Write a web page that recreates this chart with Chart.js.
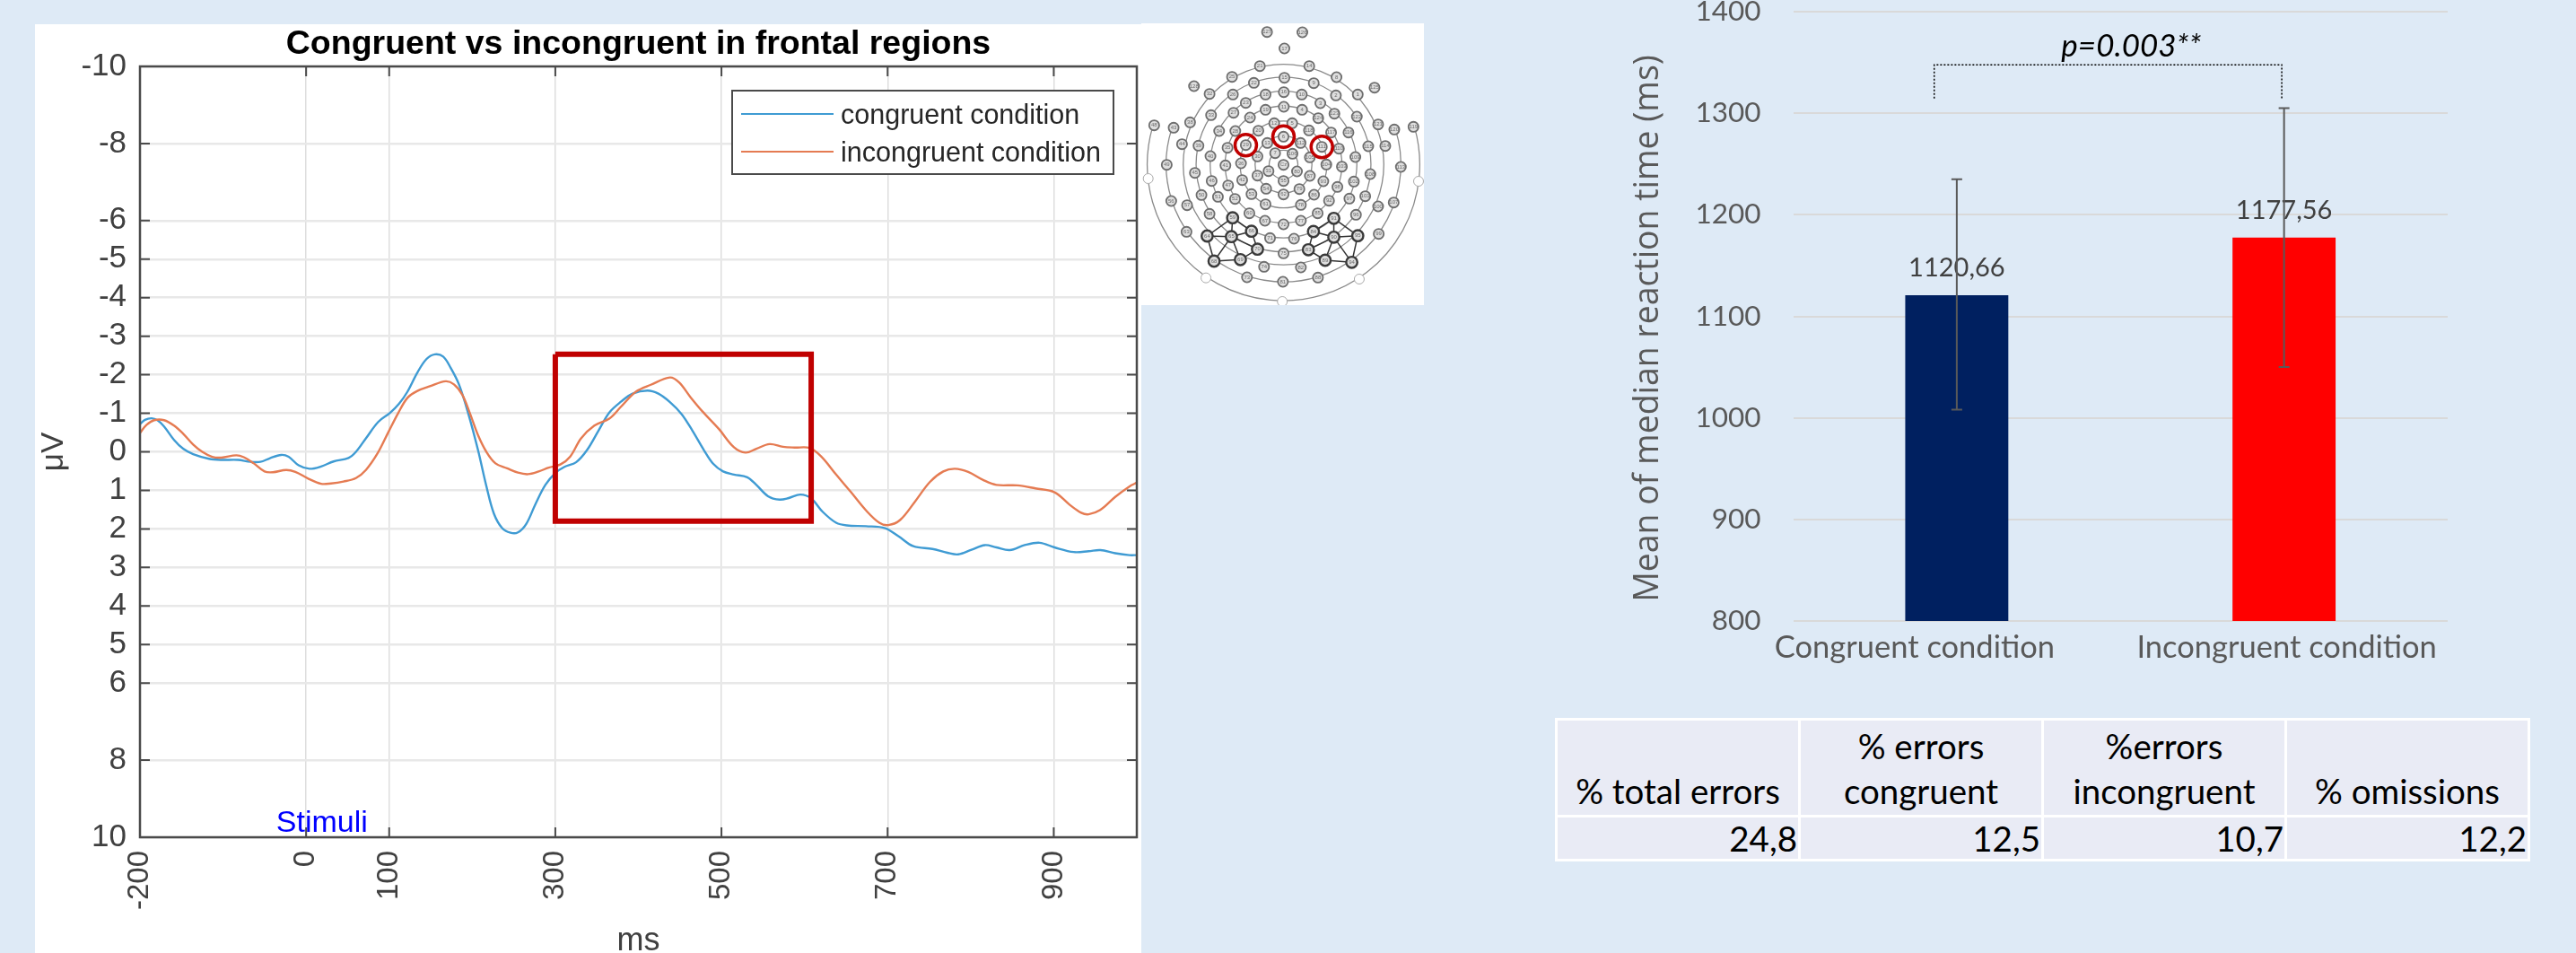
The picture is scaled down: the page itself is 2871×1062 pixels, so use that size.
<!DOCTYPE html>
<html>
<head>
<meta charset="utf-8">
<title>Congruent vs incongruent</title>
<script src="https://cdn.jsdelivr.net/npm/chart.js@4/dist/chart.umd.min.js"></script>
<style>
  html, body { margin: 0; padding: 0; width: 2871px; height: 1062px; overflow: hidden; background: #DEEAF6; }
  canvas { position: absolute; display: block; }
  #erpChart { left: 39px; top: 27px; background: #fff; }
  #headChart { left: 1272px; top: 26px; background: #fff; }
  #rtChart { left: 1780px; top: 0; }
  #errorTable { position: absolute; left: 1733px; top: 800px; width: 1087px; height: 160px; border-collapse: collapse;
    table-layout: fixed; font: 38.5px Lato, sans-serif; color: #000; }
  #errorTable td { background: #E9EBF5; border: 3px solid #fff; padding: 0 1px 0 1px; }
  #errorTable tr:first-child td { height: 103px; text-align: center; vertical-align: bottom; line-height: 50px; padding-bottom: 2px; }
  #errorTable tr:last-child td { text-align: right; vertical-align: middle; }
</style>
</head>
<body>
<canvas id="erpChart"></canvas>
<canvas id="headChart"></canvas>
<canvas id="rtChart"></canvas>
<table id="errorTable"></table>

<script>
// ERP curves (ms / microvolts)
var congruentMs = [-200,-194,-186,-179,-171,-159,-148,-136,-117,-102,-82,-67,-55,-44,-30,-21,-9,4,18,33,51,60,72,87,101,112,122,134,145,155,165,174,184,195,207,217,226,236,246,255,265,276,288,300,311,325,338,352,365,379,393,411,424,438,452,465,479,490,502,515,531,542,556,570,581,595,608,622,638,651,674,697,713,731,754,772,785,801,817,831,847,865,883,901,924,942,956,974,991,1000];
var congruentUv = [-0.72,-0.83,-0.87,-0.82,-0.66,-0.31,-0.08,0.06,0.18,0.21,0.21,0.26,0.26,0.17,0.08,0.13,0.35,0.44,0.38,0.25,0.16,0,-0.35,-0.78,-1.01,-1.25,-1.56,-2.06,-2.41,-2.53,-2.47,-2.18,-1.75,-1.01,-0.04,0.89,1.6,1.98,2.1,2.09,1.87,1.36,0.86,0.55,0.39,0.27,-0.04,-0.55,-1.02,-1.3,-1.51,-1.59,-1.51,-1.29,-0.98,-0.55,-0.04,0.31,0.51,0.59,0.66,0.86,1.15,1.24,1.2,1.11,1.21,1.56,1.84,1.91,1.93,1.98,2.19,2.45,2.52,2.62,2.66,2.54,2.42,2.48,2.55,2.42,2.36,2.48,2.6,2.58,2.55,2.63,2.68,2.68];
var incongruentMs = [-200,-192,-183,-171,-159,-148,-136,-125,-113,-102,-84,-75,-63,-50,-40,-24,-13,3,18,30,45,60,72,86,99,111,122,134,149,168,178,188,197,207,217,228,242,255,267,280,292,306,318,331,347,365,379,397,415,438,449,463,477,497,515,529,542,558,574,588,606,620,638,656,674,690,701,715,733,751,767,781,797,815,831,856,878,901,919,933,942,956,974,991,1000];
var incongruentUv = [-0.49,-0.7,-0.82,-0.82,-0.68,-0.47,-0.19,0,0.13,0.15,0.09,0.14,0.3,0.51,0.53,0.47,0.52,0.7,0.83,0.82,0.77,0.68,0.47,0.04,-0.51,-1.01,-1.4,-1.58,-1.7,-1.83,-1.75,-1.48,-1.01,-0.43,0,0.3,0.43,0.54,0.58,0.51,0.41,0.33,0.12,-0.35,-0.68,-0.86,-1.17,-1.56,-1.74,-1.93,-1.8,-1.41,-1.05,-0.59,-0.12,0.02,-0.08,-0.2,-0.13,-0.11,-0.1,0.12,0.59,1.05,1.52,1.84,1.9,1.77,1.29,0.78,0.51,0.44,0.52,0.73,0.86,0.87,0.95,1.05,1.37,1.58,1.62,1.51,1.17,0.9,0.8];
var erpXTicks = [-200, 0, 100, 300, 500, 700, 900];
var erpYTicks = [-10, -8, -6, -5, -4, -3, -2, -1, 0, 1, 2, 3, 4, 5, 6, 8, 10];
var windowMs = [300, 608, 608, 300, 300];
var windowUv = [-2.53, -2.53, 1.8, 1.8, -2.53];

// reaction times
var rtCategories = ['Congruent condition', 'Incongruent condition'];
var rtMeans = [1120.66, 1177.56];
var rtLabels = ['1120,66', '1177,56'];
var rtErrLow = [1008, 1050];
var rtErrHigh = [1235, 1305];
var rtColors = ['#002060', '#FF0000'];

// error table
var tableHeaders = ['% total errors', '% errors<br>congruent', '%errors<br>incongruent', '% omissions'];
var tableValues = ['24,8', '12,5', '10,7', '12,2'];

// electrode map, positions
var electrodeIds = [127,126,17,21,14,25,8,22,15,9,128,125,32,26,18,16,10,2,1,23,19,11,4,3,124,33,27,24,123,122,38,48,43,121,120,119,34,28,20,12,5,118,117,116,29,6,111,35,13,112,110,44,39,115,114,7,106,30,105,40,109,49,113,41,36,'Cz',104,103,31,80,37,87,45,108,42,55,93,46,102,47,54,79,98,50,53,86,101,51,52,62,92,97,56,57,107,100,61,78,67,72,77,58,60,85,96,59,91,66,84,64,65,90,95,63,99,71,76,70,83,75,68,69,89,94,74,82,73,88,81];
var electrodeX = [457,575,515,433,598,340,689,413,515,613,213,816,265,343,452,513,573,687,760,386,452,513,574,635,628,270,345,400,682,757,200,80,145,828,882,946,297,351,428,481,541,597,671,729,386,512,640,325,458,569,697,173,228,795,852,484,542,425,600,268,752,122,904,318,370,512,655,707,462,557,425,600,216,802,374,512,645,272,747,327,454,565,692,238,405,614,785,293,350,512,664,732,137,190,880,828,452,570,450,512,570,265,398,626,754,342,680,405,612,257,338,680,760,188,830,467,547,425,595,512,280,368,651,740,447,570,390,627,510];
var electrodeY = [47,48,102,161,161,197,198,217,200,218,228,233,254,256,256,248,256,259,256,284,307,297,307,285,335,325,317,333,320,330,349,359,367,356,373,364,378,378,377,352,352,376,383,383,425,397,431,434,418,418,437,422,427,429,428,452,454,463,466,462,465,491,498,493,486,491,490,497,512,513,527,528,518,522,542,545,546,545,547,560,571,572,565,592,589,591,596,598,605,590,611,604,612,626,617,630,623,625,678,690,678,655,653,653,658,668,670,713,714,729,731,733,728,715,722,736,738,773,775,787,813,808,810,817,832,834,867,868,882];
var darkElectrodes = [59,91,66,84,64,65,90,95,70,83,68,69,89,94];
var redElectrodes = [29,6,111];
var darkLinks = [[59,64],[59,65],[59,66],[64,65],[65,66],[64,68],[65,68],[65,69],[66,70],[65,70],[68,69],[69,70],[91,84],[91,90],[91,95],[84,90],[90,95],[84,83],[90,83],[90,89],[90,94],[95,94],[89,94],[83,89]];
var refX = [60, 963, 253, 765, 508];
var refY = [537, 546, 869, 873, 948];
var ringRadii = [392, 335, 292, 245, 195, 145, 95, 48];
var outerRingRadius = 455;
var ringCentre = [512, 490];

function xyPoints(xs, ys) {
  return xs.map(function (x, i) { return { x: x, y: ys[i] }; });
}

function setTicks(values) {
  return function (scale) {
    scale.ticks = values.map(function (v) { return { value: v }; });
  };
}

// ---- ERP plot ----
var erpExtras = {
  id: 'erpExtras',
  afterDatasetsDraw: function (chart) {
    var ctx = chart.ctx, area = chart.chartArea;
    var x = chart.scales.x, y = chart.scales.y;
    ctx.save();
    ctx.strokeStyle = '#4A4A4A';
    ctx.lineWidth = 2.5;
    ctx.strokeRect(area.left, area.top, area.right - area.left, area.bottom - area.top);

    // matlab style ticks, inside on both sides
    ctx.lineWidth = 2;
    ctx.beginPath();
    erpYTicks.forEach(function (v) {
      var py = y.getPixelForValue(v);
      ctx.moveTo(area.left, py); ctx.lineTo(area.left + 11, py);
      ctx.moveTo(area.right, py); ctx.lineTo(area.right - 11, py);
    });
    erpXTicks.forEach(function (v) {
      var px = x.getPixelForValue(v);
      ctx.moveTo(px, area.top); ctx.lineTo(px, area.top + 11);
      ctx.moveTo(px, area.bottom); ctx.lineTo(px, area.bottom - 11);
    });
    ctx.stroke();

    ctx.fillStyle = '#0000FF';
    ctx.font = '34px "Liberation Sans"';
    ctx.textBaseline = 'alphabetic';
    ctx.fillText('Stimuli', x.getPixelForValue(-36), y.getPixelForValue(9.85));

    // legend box
    var box = { left: 777, top: 74, width: 425, height: 93 };
    ctx.fillStyle = '#fff';
    ctx.fillRect(box.left, box.top, box.width, box.height);
    ctx.strokeStyle = '#4A4A4A';
    ctx.lineWidth = 2;
    ctx.strokeRect(box.left, box.top, box.width, box.height);
    ctx.font = '30.5px "Liberation Sans"';
    ctx.textBaseline = 'middle';
    chart.data.datasets.slice(1).forEach(function (ds, i) {
      var rowY = box.top + 26 + i * 42;
      ctx.strokeStyle = ds.borderColor;
      ctx.lineWidth = 2.2;
      ctx.beginPath();
      ctx.moveTo(box.left + 10, rowY);
      ctx.lineTo(box.left + 113, rowY);
      ctx.stroke();
      ctx.fillStyle = '#262626';
      ctx.fillText(ds.label, box.left + 121, rowY + 3);
    });
    ctx.restore();
  }
};

var erpCanvas = document.getElementById('erpChart');
erpCanvas.width = 1233; erpCanvas.height = 1035;
new Chart(erpCanvas.getContext('2d'), {
  type: 'scatter',
  data: {
    datasets: [
      { label: 'window', data: xyPoints(windowMs, windowUv), showLine: true, pointRadius: 0, borderColor: '#C00000', borderWidth: 6, tension: 0, order: 0 },
      { label: 'congruent condition', data: xyPoints(congruentMs, congruentUv), showLine: true, pointRadius: 0, borderColor: '#3F9BD3', borderWidth: 2.4, tension: 0.35, order: 2 },
      { label: 'incongruent condition', data: xyPoints(incongruentMs, incongruentUv), showLine: true, pointRadius: 0, borderColor: '#E57B52', borderWidth: 2.4, tension: 0.35, order: 1 }
    ]
  },
  options: {
    responsive: false,
    animation: false,
    layout: { padding: { right: 5 } },
    plugins: {
      legend: { display: false },
      tooltip: { enabled: false },
      title: {
        display: true,
        fullSize: false,
        text: 'Congruent vs incongruent in frontal regions',
        color: '#000',
        font: { family: '"Liberation Sans"', size: 37.5, weight: 'bold' },
        padding: { top: 0, bottom: 2 }
      }
    },
    scales: {
      x: {
        type: 'linear',
        min: -200,
        max: 1000,
        afterBuildTicks: setTicks(erpXTicks),
        afterFit: function (s) { s.height = 129; },
        grid: { color: '#DEDEDE', lineWidth: 1.5, drawTicks: false },
        border: { display: false },
        ticks: { color: '#404040', font: { family: '"Liberation Sans"', size: 33 }, minRotation: 90, maxRotation: 90, padding: 15, autoSkip: false },
        title: { display: true, text: 'ms', color: '#404040', font: { family: '"Liberation Sans"', size: 36 }, padding: { top: 0, bottom: -9 } }
      },
      y: {
        type: 'linear',
        min: -10,
        max: 10,
        reverse: true,
        afterBuildTicks: setTicks(erpYTicks),
        afterFit: function (s) { s.width = 117; },
        grid: { color: '#E8E8E8', lineWidth: 2.5, drawTicks: false },
        border: { display: false },
        ticks: { color: '#404040', font: { family: '"Liberation Sans"', size: 35 }, padding: 15, autoSkip: false },
        title: { display: true, text: 'μV', color: '#404040', font: { family: '"Liberation Sans"', size: 35 }, padding: 0 }
      }
    }
  },
  plugins: [erpExtras]
});

// ---- electrode montage ----
function electrodePoint(id) {
  var i = electrodeIds.indexOf(id);
  return { x: electrodeX[i], y: electrodeY[i] };
}

var headExtras = {
  id: 'headExtras',
  beforeDatasetsDraw: function (chart) {
    var ctx = chart.ctx, sx = chart.scales.x, sy = chart.scales.y;
    var cx = sx.getPixelForValue(ringCentre[0]), cy = sy.getPixelForValue(ringCentre[1]);
    var k = sx.width / (sx.max - sx.min);
    ctx.save();
    ctx.strokeStyle = '#8A8A8A';
    ctx.lineWidth = 1.3;
    ringRadii.forEach(function (r, i) {
      ctx.beginPath();
      if (i === 0) ctx.arc(cx, cy, r * k, -0.3, Math.PI + 0.3);
      else ctx.arc(cx, cy, r * k, 0, Math.PI * 2);
      ctx.stroke();
    });
    ctx.beginPath();
    ctx.arc(cx, cy, outerRingRadius * k, -0.28, Math.PI + 0.28);
    ctx.stroke();
    ctx.strokeStyle = '#333';
    ctx.lineWidth = 1.5;
    darkLinks.forEach(function (l) {
      var a = electrodePoint(l[0]), b = electrodePoint(l[1]);
      ctx.beginPath();
      ctx.moveTo(sx.getPixelForValue(a.x), sy.getPixelForValue(a.y));
      ctx.lineTo(sx.getPixelForValue(b.x), sy.getPixelForValue(b.y));
      ctx.stroke();
    });
    ctx.restore();
  },
  afterDatasetsDraw: function (chart) {
    var ctx = chart.ctx, sx = chart.scales.x, sy = chart.scales.y;
    ctx.save();
    ctx.fillStyle = '#6A6A6A';
    ctx.font = '6px "Liberation Sans"';
    ctx.textAlign = 'center';
    ctx.textBaseline = 'middle';
    electrodeIds.forEach(function (id, i) {
      ctx.fillText(id, sx.getPixelForValue(electrodeX[i]), sy.getPixelForValue(electrodeY[i]));
    });
    ctx.restore();
  }
};

var headCanvas = document.getElementById('headChart');
headCanvas.width = 315; headCanvas.height = 314;
new Chart(headCanvas.getContext('2d'), {
  type: 'scatter',
  data: {
    datasets: [
      {
        label: 'selected',
        data: redElectrodes.map(electrodePoint),
        pointRadius: 12,
        pointBorderWidth: 3.5,
        pointBorderColor: '#C00000',
        pointBackgroundColor: 'rgba(0,0,0,0)',
        order: 0
      },
      {
        label: 'electrodes',
        data: xyPoints(electrodeX, electrodeY),
        pointRadius: electrodeIds.map(function (id) { return darkElectrodes.indexOf(id) >= 0 ? 6.2 : 5.6; }),
        pointBorderWidth: electrodeIds.map(function (id) { return darkElectrodes.indexOf(id) >= 0 ? 2.4 : 1.8; }),
        pointBorderColor: electrodeIds.map(function (id) { return darkElectrodes.indexOf(id) >= 0 ? '#3A3A3A' : '#6E6E6E'; }),
        pointBackgroundColor: '#DEDEDE',
        order: 1
      },
      {
        label: 'reference',
        data: xyPoints(refX, refY),
        pointRadius: 5.5,
        pointBorderWidth: 1,
        pointBorderColor: '#AAA',
        pointBackgroundColor: '#FFF',
        order: 2
      }
    ]
  },
  options: {
    responsive: false,
    animation: false,
    layout: { padding: 0, autoPadding: false },
    plugins: { legend: { display: false }, tooltip: { enabled: false } },
    scales: {
      x: { type: 'linear', display: false, min: 37, max: 981 },
      y: { type: 'linear', display: false, min: 18, max: 960, reverse: true }
    }
  },
  plugins: [headExtras]
});

// ---- reaction time bars ----
var rtExtras = {
  id: 'rtExtras',
  afterDatasetsDraw: function (chart) {
    var ctx = chart.ctx, x = chart.scales.x, y = chart.scales.y;
    var catWidth = x.getPixelForValue(1) - x.getPixelForValue(0);
    ctx.save();

    ctx.font = '29px Lato';
    ctx.fillStyle = '#404040';
    ctx.textAlign = 'center';
    ctx.textBaseline = 'middle';
    rtLabels.forEach(function (label, i) {
      var top = y.getPixelForValue(rtMeans[i]);
      ctx.fillText(label, x.getPixelForValue(i), top - 30);
    });

    // category labels sit off-centre in the original
    ctx.font = '34.5px Lato';
    ctx.fillStyle = '#595959';
    rtCategories.forEach(function (label, i) {
      var shift = i === 0 ? -47 : 3;
      ctx.fillText(label, x.getPixelForValue(i) + shift, 722);
    });

    // error bars
    ctx.strokeStyle = '#595959';
    ctx.lineWidth = 2;
    rtMeans.forEach(function (m, i) {
      var px = x.getPixelForValue(i);
      var lo = y.getPixelForValue(rtErrLow[i]), hi = y.getPixelForValue(rtErrHigh[i]);
      ctx.beginPath();
      ctx.moveTo(px, lo); ctx.lineTo(px, hi);
      ctx.moveTo(px - 6, lo); ctx.lineTo(px + 6, lo);
      ctx.moveTo(px - 6, hi); ctx.lineTo(px + 6, hi);
      ctx.stroke();
    });

    // significance bracket
    var bx0 = x.getPixelForValue(0) - 0.069 * catWidth;
    var bx1 = x.getPixelForValue(1) - 0.007 * catWidth;
    var by0 = y.getPixelForValue(1314.6), by1 = y.getPixelForValue(1347.6);
    ctx.strokeStyle = '#000';
    ctx.lineWidth = 1.5;
    ctx.setLineDash([2, 2]);
    ctx.beginPath();
    ctx.moveTo(bx0, by0); ctx.lineTo(bx0, by1); ctx.lineTo(bx1, by1); ctx.lineTo(bx1, by0);
    ctx.stroke();
    ctx.setLineDash([]);
    ctx.fillStyle = '#000';
    ctx.font = 'italic 35px Lato';
    ctx.fillText('p=0.003**', x.getPixelForValue(0.533), y.getPixelForValue(1366));

    // y title, centred on its own spot rather than on the axis
    ctx.translate(57, 366);
    ctx.rotate(-Math.PI / 2);
    ctx.fillStyle = '#595959';
    ctx.font = '37.4px "Open Sans"';
    ctx.fillText('Mean of median reaction time (ms)', 0, 0);
    ctx.restore();
  }
};

var rtCanvas = document.getElementById('rtChart');
rtCanvas.width = 1000; rtCanvas.height = 770;
new Chart(rtCanvas.getContext('2d'), {
  type: 'bar',
  data: {
    labels: rtCategories,
    datasets: [{ label: 'Mean of median reaction time (ms)', data: rtMeans, backgroundColor: rtColors, barPercentage: 1, categoryPercentage: 0.315 }]
  },
  options: {
    responsive: false,
    animation: false,
    layout: { padding: { top: 13, right: 52 } },
    plugins: { legend: { display: false }, tooltip: { enabled: false } },
    scales: {
      x: {
        afterFit: function (s) { s.height = 78; s.paddingLeft = 0; s.paddingRight = 0; },
        grid: { display: false },
        border: { display: false },
        ticks: { display: false }
      },
      y: {
        min: 800,
        max: 1400,
        afterFit: function (s) { s.width = 218.5; s.paddingTop = 0; s.paddingBottom = 0; },
        ticks: { stepSize: 100, color: '#595959', font: { family: 'Lato', size: 31.5 }, padding: 36, callback: function (v) { return String(v); } },
        grid: { color: '#D9D9D9', lineWidth: 2, drawTicks: false },
        border: { display: false }
      }
    }
  },
  plugins: [rtExtras]
});

// ---- table ----
var tableEl = document.getElementById('errorTable');
tableEl.innerHTML =
  '<tr>' + tableHeaders.map(function (h) { return '<td>' + h + '</td>'; }).join('') + '</tr>' +
  '<tr>' + tableValues.map(function (v) { return '<td>' + v + '</td>'; }).join('') + '</tr>';
</script>
</body>
</html>
